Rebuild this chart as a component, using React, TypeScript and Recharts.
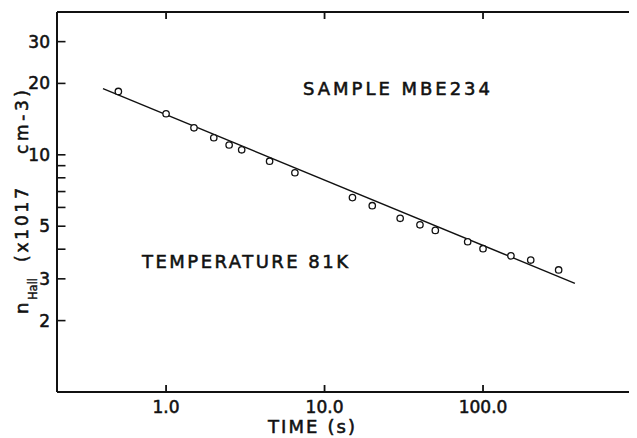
import React from 'react';
import { ComposedChart, XAxis, YAxis, Scatter } from 'recharts';

// Measured data (time in s, n_Hall in 1e17 cm^-3)
const timeS = [0.5, 1.0, 1.5, 2.0, 2.5, 3.0, 4.5, 6.5, 15, 20, 30, 40, 50, 80, 100, 150, 200, 300];
const nHall = [18.5, 14.9, 13.0, 11.8, 11.0, 10.5, 9.4, 8.4, 6.6, 6.1, 5.4, 5.07, 4.8, 4.3, 4.02, 3.75, 3.6, 3.27];

// Fitted straight line (log-log) end points
const fitTime = [0.4, 380];
const fitN = [19.0, 2.87];

const xTicks = [1, 10, 100];
const xTickLabels = ['1.0', '10.0', '100.0'];
const yTicks = [2, 3, 4, 5, 6, 7, 8, 9, 10, 20, 30];
const yLabeled = [2, 3, 5, 10, 20, 30];

const points = timeS.map((t, i) => ({ x: t, y: nHall[i] }));
const fitLine = fitTime.map((t, i) => ({ x: t, y: fitN[i] }));

const FONT = '"DejaVu Sans", sans-serif';
const INK = '#111';
const TXT = { fontFamily: FONT, fill: INK, stroke: INK, strokeWidth: 0.55 } as const;

const BottomTick = (props: any) => {
  const { x, y, payload } = props;
  const i = xTicks.indexOf(payload.value);
  return (
    <g>
      <line x1={x} x2={x} y1={y} y2={y - 7} stroke={INK} strokeWidth={1.8} />
      <text x={x} y={y + 21} textAnchor="middle" fontSize={17} {...TXT}>
        {i >= 0 ? xTickLabels[i] : ''}
      </text>
    </g>
  );
};

const TopTick = (props: any) => {
  const { x, y } = props;
  return <line x1={x} x2={x} y1={y} y2={y + 7} stroke={INK} strokeWidth={1.8} />;
};

const LeftTick = (props: any) => {
  const { x, y, payload } = props;
  const show = yLabeled.indexOf(payload.value) >= 0;
  return (
    <g>
      <line x1={x} x2={x + 8.5} y1={y} y2={y} stroke={INK} strokeWidth={1.6} />
      {show && (
        <text x={x - 7} y={y + 6} textAnchor="end" fontSize={17} {...TXT}>
          {String(payload.value)}
        </text>
      )}
    </g>
  );
};

const Ring = (props: any) => {
  const { cx, cy } = props;
  return <circle cx={cx} cy={cy} r={3.2} fill="#fff" stroke={INK} strokeWidth={1.3} />;
};

const NoShape = () => <g />;

export default function App() {
  return (
    <div style={{ position: 'relative', width: 629, height: 430, overflow: 'hidden', background: '#fff' }}>
      <ComposedChart width={640} height={430} margin={{ top: 0, right: 6.5, bottom: 0, left: 4 }}>
        <XAxis
          dataKey="x"
          type="number"
          scale="log"
          domain={[0.205, 1000]}
          allowDataOverflow
          ticks={xTicks}
          tick={BottomTick}
          tickSize={0}
          tickMargin={0}
          tickLine={false}
          height={46}
          axisLine={{ stroke: INK, strokeWidth: 2 }}
          interval={0}
        />
        <XAxis
          xAxisId="top"
          orientation="top"
          dataKey="x"
          type="number"
          scale="log"
          domain={[0.205, 1000]}
          allowDataOverflow
          ticks={xTicks}
          tick={TopTick}
          tickSize={0}
          tickMargin={0}
          tickLine={false}
          height={4}
          axisLine={{ stroke: INK, strokeWidth: 2 }}
          interval={0}
        />
        <YAxis
          dataKey="y"
          type="number"
          scale="log"
          domain={[1, 40]}
          allowDataOverflow
          ticks={yTicks}
          tick={LeftTick}
          tickSize={0}
          tickMargin={0}
          tickLine={false}
          width={45}
          axisLine={{ stroke: INK, strokeWidth: 2 }}
          interval={0}
        />
        <Scatter
          data={fitLine}
          line={{ stroke: INK, strokeWidth: 1.4 }}
          lineType="joint"
          shape={NoShape}
          isAnimationActive={false}
        />
        <Scatter data={points} shape={Ring} isAnimationActive={false} />
      </ComposedChart>
      <svg
        width={629}
        height={430}
        style={{ position: 'absolute', left: 0, top: 0, pointerEvents: 'none' }}
      >
        <text x={295} y={87} fontSize={18} {...TXT} textLength={187} lengthAdjust="spacing">
          SAMPLE MBE234
        </text>
        <text x={134} y={260} fontSize={18} {...TXT} textLength={206} lengthAdjust="spacing">
          TEMPERATURE 81K
        </text>
        <text x={260} y={425} fontSize={18} {...TXT} textLength={87} lengthAdjust="spacing">
          TIME (s)
        </text>
        <g transform="rotate(-90)">
          <text x={-306} y={20} fontSize={18} {...TXT}>n</text>
          <text x={-292} y={29} fontSize={13} {...TXT} strokeWidth={0.4} textLength={22} lengthAdjust="spacingAndGlyphs">Hall</text>
          <text x={-254} y={20} fontSize={17} {...TXT} textLength={74} lengthAdjust="spacing">(x1017</text>
          <text x={-146} y={20} fontSize={17} {...TXT} textLength={64} lengthAdjust="spacing">cm-3)</text>
        </g>
      </svg>
    </div>
  );
}
